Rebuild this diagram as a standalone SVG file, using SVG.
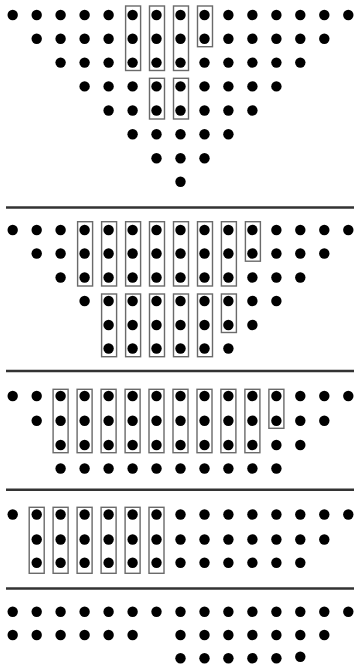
<svg xmlns="http://www.w3.org/2000/svg" width="355" height="668" viewBox="0 0 355 668">
<style>
.d{fill:#000}
.b{fill:none;stroke:#6a6a6a;stroke-width:1.4}
.s{stroke:#333;stroke-width:2.6}
</style>
<rect width="355" height="668" fill="#fff"/>
<g id="section1">
<g class="d">
<circle cx="12.7" cy="15" r="5.2"/><circle cx="36.7" cy="15" r="5.2"/><circle cx="60.6" cy="15" r="5.2"/><circle cx="84.6" cy="15" r="5.2"/><circle cx="108.6" cy="15" r="5.2"/><circle cx="132.6" cy="15" r="5.2"/><circle cx="156.5" cy="15" r="5.2"/><circle cx="180.5" cy="15" r="5.2"/><circle cx="204.5" cy="15" r="5.2"/><circle cx="228.4" cy="15" r="5.2"/><circle cx="252.4" cy="15" r="5.2"/><circle cx="276.4" cy="15" r="5.2"/><circle cx="300.3" cy="15" r="5.2"/><circle cx="324.3" cy="15" r="5.2"/><circle cx="348.3" cy="15" r="5.2"/>
<circle cx="36.7" cy="38.8" r="5.2"/><circle cx="60.6" cy="38.8" r="5.2"/><circle cx="84.6" cy="38.8" r="5.2"/><circle cx="108.6" cy="38.8" r="5.2"/><circle cx="132.6" cy="38.8" r="5.2"/><circle cx="156.5" cy="38.8" r="5.2"/><circle cx="180.5" cy="38.8" r="5.2"/><circle cx="204.5" cy="38.8" r="5.2"/><circle cx="228.4" cy="38.8" r="5.2"/><circle cx="252.4" cy="38.8" r="5.2"/><circle cx="276.4" cy="38.8" r="5.2"/><circle cx="300.3" cy="38.8" r="5.2"/><circle cx="324.3" cy="38.8" r="5.2"/>
<circle cx="60.6" cy="62.6" r="5.2"/><circle cx="84.6" cy="62.6" r="5.2"/><circle cx="108.6" cy="62.6" r="5.2"/><circle cx="132.6" cy="62.6" r="5.2"/><circle cx="156.5" cy="62.6" r="5.2"/><circle cx="180.5" cy="62.6" r="5.2"/><circle cx="204.5" cy="62.6" r="5.2"/><circle cx="228.4" cy="62.6" r="5.2"/><circle cx="252.4" cy="62.6" r="5.2"/><circle cx="276.4" cy="62.6" r="5.2"/><circle cx="300.3" cy="62.6" r="5.2"/>
<circle cx="84.6" cy="86.4" r="5.2"/><circle cx="108.6" cy="86.4" r="5.2"/><circle cx="132.6" cy="86.4" r="5.2"/><circle cx="156.5" cy="86.4" r="5.2"/><circle cx="180.5" cy="86.4" r="5.2"/><circle cx="204.5" cy="86.4" r="5.2"/><circle cx="228.4" cy="86.4" r="5.2"/><circle cx="252.4" cy="86.4" r="5.2"/><circle cx="276.4" cy="86.4" r="5.2"/>
<circle cx="108.6" cy="110.5" r="5.2"/><circle cx="132.6" cy="110.5" r="5.2"/><circle cx="156.5" cy="110.5" r="5.2"/><circle cx="180.5" cy="110.5" r="5.2"/><circle cx="204.5" cy="110.5" r="5.2"/><circle cx="228.4" cy="110.5" r="5.2"/><circle cx="252.4" cy="110.5" r="5.2"/>
<circle cx="132.6" cy="134.3" r="5.2"/><circle cx="156.5" cy="134.3" r="5.2"/><circle cx="180.5" cy="134.3" r="5.2"/><circle cx="204.5" cy="134.3" r="5.2"/><circle cx="228.4" cy="134.3" r="5.2"/>
<circle cx="156.5" cy="158.3" r="5.2"/><circle cx="180.5" cy="158.3" r="5.2"/><circle cx="204.5" cy="158.3" r="5.2"/>
<circle cx="180.5" cy="181.8" r="5.2"/>
</g>
<g class="b">
<rect x="125.6" y="6" width="15" height="64.5"/><rect x="149.5" y="6" width="15" height="64.5"/><rect x="173.5" y="6" width="15" height="64.5"/><rect x="197.5" y="6" width="15" height="40.7"/>
<rect x="149.5" y="78.3" width="15" height="40.7"/><rect x="173.5" y="78.3" width="15" height="40.7"/>
</g>
</g>
<line class="s" x1="6" y1="207.5" x2="354" y2="207.5"/>
<g id="section2">
<g class="d">
<circle cx="12.7" cy="230" r="5.2"/><circle cx="36.7" cy="230" r="5.2"/><circle cx="60.6" cy="230" r="5.2"/><circle cx="84.6" cy="230" r="5.2"/><circle cx="108.6" cy="230" r="5.2"/><circle cx="132.6" cy="230" r="5.2"/><circle cx="156.5" cy="230" r="5.2"/><circle cx="180.5" cy="230" r="5.2"/><circle cx="204.5" cy="230" r="5.2"/><circle cx="228.4" cy="230" r="5.2"/><circle cx="252.4" cy="230" r="5.2"/><circle cx="276.4" cy="230" r="5.2"/><circle cx="300.3" cy="230" r="5.2"/><circle cx="324.3" cy="230" r="5.2"/><circle cx="348.3" cy="230" r="5.2"/>
<circle cx="36.7" cy="253.5" r="5.2"/><circle cx="60.6" cy="253.5" r="5.2"/><circle cx="84.6" cy="253.5" r="5.2"/><circle cx="108.6" cy="253.5" r="5.2"/><circle cx="132.6" cy="253.5" r="5.2"/><circle cx="156.5" cy="253.5" r="5.2"/><circle cx="180.5" cy="253.5" r="5.2"/><circle cx="204.5" cy="253.5" r="5.2"/><circle cx="228.4" cy="253.5" r="5.2"/><circle cx="252.4" cy="253.5" r="5.2"/><circle cx="276.4" cy="253.5" r="5.2"/><circle cx="300.3" cy="253.5" r="5.2"/><circle cx="324.3" cy="253.5" r="5.2"/>
<circle cx="60.6" cy="277.5" r="5.2"/><circle cx="84.6" cy="277.5" r="5.2"/><circle cx="108.6" cy="277.5" r="5.2"/><circle cx="132.6" cy="277.5" r="5.2"/><circle cx="156.5" cy="277.5" r="5.2"/><circle cx="180.5" cy="277.5" r="5.2"/><circle cx="204.5" cy="277.5" r="5.2"/><circle cx="228.4" cy="277.5" r="5.2"/><circle cx="252.4" cy="277.5" r="5.2"/><circle cx="276.4" cy="277.5" r="5.2"/><circle cx="300.3" cy="277.5" r="5.2"/>
<circle cx="84.6" cy="301" r="5.2"/><circle cx="108.6" cy="301" r="5.2"/><circle cx="132.6" cy="301" r="5.2"/><circle cx="156.5" cy="301" r="5.2"/><circle cx="180.5" cy="301" r="5.2"/><circle cx="204.5" cy="301" r="5.2"/><circle cx="228.4" cy="301" r="5.2"/><circle cx="252.4" cy="301" r="5.2"/><circle cx="276.4" cy="301" r="5.2"/>
<circle cx="108.6" cy="325" r="5.2"/><circle cx="132.6" cy="325" r="5.2"/><circle cx="156.5" cy="325" r="5.2"/><circle cx="180.5" cy="325" r="5.2"/><circle cx="204.5" cy="325" r="5.2"/><circle cx="228.4" cy="325" r="5.2"/><circle cx="252.4" cy="325" r="5.2"/>
<circle cx="108.6" cy="348.5" r="5.2"/><circle cx="132.6" cy="348.5" r="5.2"/><circle cx="156.5" cy="348.5" r="5.2"/><circle cx="180.5" cy="348.5" r="5.2"/><circle cx="204.5" cy="348.5" r="5.2"/><circle cx="228.4" cy="348.5" r="5.2"/>
</g>
<g class="b">
<rect x="77.6" y="221.7" width="15" height="64.3"/><rect x="101.6" y="221.7" width="15" height="64.3"/><rect x="125.6" y="221.7" width="15" height="64.3"/><rect x="149.5" y="221.7" width="15" height="64.3"/><rect x="173.5" y="221.7" width="15" height="64.3"/><rect x="197.5" y="221.7" width="15" height="64.3"/><rect x="221.4" y="221.7" width="15" height="64.3"/><rect x="245.4" y="221.7" width="15" height="39.5"/>
<rect x="101.6" y="294" width="15" height="62.7"/><rect x="125.6" y="294" width="15" height="62.7"/><rect x="149.5" y="294" width="15" height="62.7"/><rect x="173.5" y="294" width="15" height="62.7"/><rect x="197.5" y="294" width="15" height="62.7"/><rect x="221.4" y="294" width="15" height="38.5"/>
</g>
</g>
<line class="s" x1="6" y1="371" x2="354" y2="371"/>
<g id="section3">
<g class="d">
<circle cx="12.7" cy="396" r="5.2"/><circle cx="36.7" cy="396" r="5.2"/><circle cx="60.6" cy="396" r="5.2"/><circle cx="84.6" cy="396" r="5.2"/><circle cx="108.6" cy="396" r="5.2"/><circle cx="132.6" cy="396" r="5.2"/><circle cx="156.5" cy="396" r="5.2"/><circle cx="180.5" cy="396" r="5.2"/><circle cx="204.5" cy="396" r="5.2"/><circle cx="228.4" cy="396" r="5.2"/><circle cx="252.4" cy="396" r="5.2"/><circle cx="276.4" cy="396" r="5.2"/><circle cx="300.3" cy="396" r="5.2"/><circle cx="324.3" cy="396" r="5.2"/><circle cx="348.3" cy="396" r="5.2"/>
<circle cx="36.7" cy="420.7" r="5.2"/><circle cx="60.6" cy="420.7" r="5.2"/><circle cx="84.6" cy="420.7" r="5.2"/><circle cx="108.6" cy="420.7" r="5.2"/><circle cx="132.6" cy="420.7" r="5.2"/><circle cx="156.5" cy="420.7" r="5.2"/><circle cx="180.5" cy="420.7" r="5.2"/><circle cx="204.5" cy="420.7" r="5.2"/><circle cx="228.4" cy="420.7" r="5.2"/><circle cx="252.4" cy="420.7" r="5.2"/><circle cx="276.4" cy="420.7" r="5.2"/><circle cx="300.3" cy="420.7" r="5.2"/><circle cx="324.3" cy="420.7" r="5.2"/>
<circle cx="60.6" cy="445" r="5.2"/><circle cx="84.6" cy="445" r="5.2"/><circle cx="108.6" cy="445" r="5.2"/><circle cx="132.6" cy="445" r="5.2"/><circle cx="156.5" cy="445" r="5.2"/><circle cx="180.5" cy="445" r="5.2"/><circle cx="204.5" cy="445" r="5.2"/><circle cx="228.4" cy="445" r="5.2"/><circle cx="252.4" cy="445" r="5.2"/><circle cx="276.4" cy="445" r="5.2"/><circle cx="300.3" cy="445" r="5.2"/>
<circle cx="60.6" cy="468.5" r="5.2"/><circle cx="84.6" cy="468.5" r="5.2"/><circle cx="108.6" cy="468.5" r="5.2"/><circle cx="132.6" cy="468.5" r="5.2"/><circle cx="156.5" cy="468.5" r="5.2"/><circle cx="180.5" cy="468.5" r="5.2"/><circle cx="204.5" cy="468.5" r="5.2"/><circle cx="228.4" cy="468.5" r="5.2"/><circle cx="252.4" cy="468.5" r="5.2"/><circle cx="276.4" cy="468.5" r="5.2"/>
</g>
<g class="b">
<rect x="53.1" y="389.3" width="15" height="63.4"/><rect x="77.1" y="389.3" width="15" height="63.4"/><rect x="101.1" y="389.3" width="15" height="63.4"/><rect x="125.1" y="389.3" width="15" height="63.4"/><rect x="149" y="389.3" width="15" height="63.4"/><rect x="173" y="389.3" width="15" height="63.4"/><rect x="197" y="389.3" width="15" height="63.4"/><rect x="220.9" y="389.3" width="15" height="63.4"/><rect x="244.9" y="389.3" width="15" height="63.4"/><rect x="268.9" y="389.3" width="15" height="39"/>
</g>
</g>
<line class="s" x1="6" y1="489.7" x2="354" y2="489.7"/>
<g id="section4">
<g class="d">
<circle cx="12.7" cy="514.5" r="5.2"/><circle cx="36.7" cy="514.5" r="5.2"/><circle cx="60.6" cy="514.5" r="5.2"/><circle cx="84.6" cy="514.5" r="5.2"/><circle cx="108.6" cy="514.5" r="5.2"/><circle cx="132.6" cy="514.5" r="5.2"/><circle cx="156.5" cy="514.5" r="5.2"/><circle cx="180.5" cy="514.5" r="5.2"/><circle cx="204.5" cy="514.5" r="5.2"/><circle cx="228.4" cy="514.5" r="5.2"/><circle cx="252.4" cy="514.5" r="5.2"/><circle cx="276.4" cy="514.5" r="5.2"/><circle cx="300.3" cy="514.5" r="5.2"/><circle cx="324.3" cy="514.5" r="5.2"/><circle cx="348.3" cy="514.5" r="5.2"/>
<circle cx="36.7" cy="539.5" r="5.2"/><circle cx="60.6" cy="539.5" r="5.2"/><circle cx="84.6" cy="539.5" r="5.2"/><circle cx="108.6" cy="539.5" r="5.2"/><circle cx="132.6" cy="539.5" r="5.2"/><circle cx="156.5" cy="539.5" r="5.2"/><circle cx="180.5" cy="539.5" r="5.2"/><circle cx="204.5" cy="539.5" r="5.2"/><circle cx="228.4" cy="539.5" r="5.2"/><circle cx="252.4" cy="539.5" r="5.2"/><circle cx="276.4" cy="539.5" r="5.2"/><circle cx="300.3" cy="539.5" r="5.2"/><circle cx="324.3" cy="539.5" r="5.2"/>
<circle cx="36.7" cy="562.8" r="5.2"/><circle cx="60.6" cy="562.8" r="5.2"/><circle cx="84.6" cy="562.8" r="5.2"/><circle cx="108.6" cy="562.8" r="5.2"/><circle cx="132.6" cy="562.8" r="5.2"/><circle cx="156.5" cy="562.8" r="5.2"/><circle cx="180.5" cy="562.8" r="5.2"/><circle cx="204.5" cy="562.8" r="5.2"/><circle cx="228.4" cy="562.8" r="5.2"/><circle cx="252.4" cy="562.8" r="5.2"/><circle cx="276.4" cy="562.8" r="5.2"/><circle cx="300.3" cy="562.8" r="5.2"/>
</g>
<g class="b">
<rect x="29.2" y="507.3" width="15" height="66"/><rect x="53.1" y="507.3" width="15" height="66"/><rect x="77.1" y="507.3" width="15" height="66"/><rect x="101.1" y="507.3" width="15" height="66"/><rect x="125.1" y="507.3" width="15" height="66"/><rect x="149" y="507.3" width="15" height="66"/>
</g>
</g>
<line class="s" x1="6" y1="588.5" x2="354" y2="588.5"/>
<g id="section5">
<g class="d">
<circle cx="12.7" cy="611.7" r="5.2"/><circle cx="36.7" cy="611.7" r="5.2"/><circle cx="60.6" cy="611.7" r="5.2"/><circle cx="84.6" cy="611.7" r="5.2"/><circle cx="108.6" cy="611.7" r="5.2"/><circle cx="132.6" cy="611.7" r="5.2"/><circle cx="156.5" cy="611.7" r="5.2"/><circle cx="180.5" cy="611.7" r="5.2"/><circle cx="204.5" cy="611.7" r="5.2"/><circle cx="228.4" cy="611.7" r="5.2"/><circle cx="252.4" cy="611.7" r="5.2"/><circle cx="276.4" cy="611.7" r="5.2"/><circle cx="300.3" cy="611.7" r="5.2"/><circle cx="324.3" cy="611.7" r="5.2"/><circle cx="348.3" cy="611.7" r="5.2"/>
<circle cx="12.7" cy="635" r="5.2"/><circle cx="36.7" cy="635" r="5.2"/><circle cx="60.6" cy="635" r="5.2"/><circle cx="84.6" cy="635" r="5.2"/><circle cx="108.6" cy="635" r="5.2"/><circle cx="132.6" cy="635" r="5.2"/><circle cx="180.5" cy="635" r="5.2"/><circle cx="204.5" cy="635" r="5.2"/><circle cx="228.4" cy="635" r="5.2"/><circle cx="252.4" cy="635" r="5.2"/><circle cx="276.4" cy="635" r="5.2"/><circle cx="300.3" cy="635" r="5.2"/><circle cx="324.3" cy="635" r="5.2"/>
<circle cx="180.5" cy="658.3" r="5.2"/><circle cx="204.5" cy="658.3" r="5.2"/><circle cx="228.4" cy="658.3" r="5.2"/><circle cx="252.4" cy="658.3" r="5.2"/><circle cx="276.4" cy="658.3" r="5.2"/><circle cx="300.3" cy="656.8" r="5.2"/>
</g>
</g>
</svg>
